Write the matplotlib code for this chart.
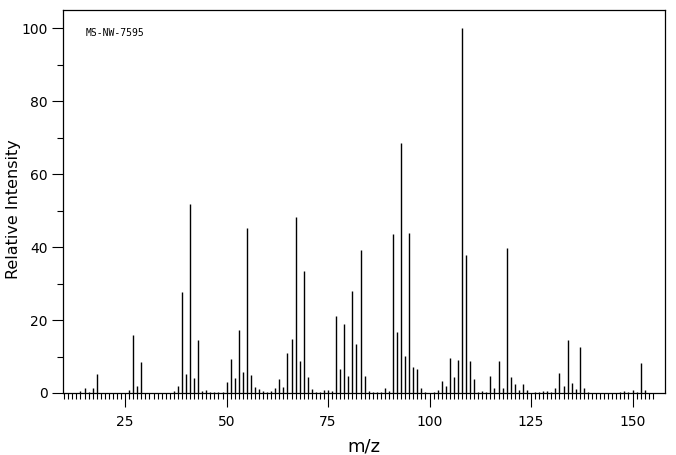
import numpy as np
import matplotlib
matplotlib.use("Agg")
import matplotlib.pyplot as plt
from matplotlib.ticker import MultipleLocator

# m/z values and relative intensities
mz = [14, 15, 16, 17, 18, 26, 27, 28, 29, 37, 38, 39, 40, 41, 42, 43, 44, 45,
      46, 47, 48, 49, 50, 51, 52, 53, 54, 55, 56, 57, 58, 59, 60, 61, 62, 63,
      64, 65, 66, 67, 68, 69, 70, 71, 72, 73, 74, 75, 76, 77, 78, 79, 80, 81,
      82, 83, 84, 85, 86, 87, 88, 89, 90, 91, 92, 93, 94, 95, 96, 97, 98, 99,
      101, 102, 103, 104, 105, 106, 107, 108, 109, 110, 111, 112, 113, 114,
      115, 116, 117, 118, 119, 120, 121, 122, 123, 124, 126, 127, 128, 129,
      130, 131, 132, 133, 134, 135, 136, 137, 138, 139, 147, 148, 149, 150,
      151, 152, 153]
intensity = [0.5, 1.5, 0.4, 1.5, 5.3, 0.9, 16.0, 2.0, 8.6, 0.6, 1.8, 27.6, 5.3,
             51.7, 4.2, 14.6, 0.6, 0.8, 0.4, 0.2, 0.4, 0.4, 3.1, 9.4, 4.2, 17.3,
             5.8, 45.3, 5.0, 1.6, 1.1, 0.6, 0.4, 0.6, 1.5, 3.9, 1.7, 11.0, 14.9,
             48.2, 8.8, 33.5, 4.4, 1.2, 0.4, 0.4, 0.8, 0.7, 0.6, 21.1, 6.7, 19.0,
             4.7, 28.0, 13.5, 39.2, 4.7, 0.6, 0.4, 0.4, 0.4, 1.5, 0.6, 43.6, 16.8,
             68.6, 10.2, 43.9, 7.2, 6.7, 1.5, 0.4, 0.4, 0.9, 3.4, 2.0, 9.7, 4.5,
             9.1, 100.0, 37.9, 8.9, 3.9, 0.4, 0.5, 0.4, 4.6, 1.5, 8.9, 1.5, 39.8,
             4.5, 2.6, 0.9, 2.6, 0.9, 0.4, 0.4, 0.6, 0.6, 0.4, 1.5, 5.6, 2.0,
             14.6, 2.7, 1.2, 12.7, 1.5, 0.4, 0.4, 0.6, 0.4, 0.9, 0.4, 8.1, 0.9]

spectrum_id = "MS-NW-7595"

fig = plt.figure(figsize=(6.76, 4.55), dpi=100)
ax = fig.add_axes([0.0932, 0.1363, 0.8905, 0.8417])

ax.vlines(mz, 0, intensity, colors="black", linewidth=1.0)

ax.set_xlim(9.7, 158.0)
ax.set_ylim(0, 105)

ax.xaxis.set_major_locator(MultipleLocator(25))
ax.yaxis.set_major_locator(MultipleLocator(20))
ax.yaxis.set_minor_locator(MultipleLocator(10))
ax.tick_params(axis="x", which="major", length=10, width=0.8, direction="out",
               labelsize=10, pad=6)
ax.tick_params(axis="x", which="minor", length=4, width=0.8, direction="out")
ax.tick_params(axis="y", which="major", length=8, width=0.8, direction="out",
               labelsize=10, pad=3)
ax.tick_params(axis="y", which="minor", length=4, width=0.8, direction="out")
ax.set_xticks([25, 50, 75, 100, 125, 150])
ax.set_xticks(np.arange(10, 156, 1), minor=True)

for sp in ax.spines.values():
    sp.set_linewidth(0.9)

ax.set_xlabel("m/z", fontsize=13, labelpad=6)
ax.set_ylabel("Relative Intensity", fontsize=11.5)
ax.yaxis.set_label_coords(-0.07, 0.48)

ax.text(0.038, 0.94, spectrum_id, transform=ax.transAxes, fontsize=7,
        family="DejaVu Sans Mono", va="center", ha="left")

fig.savefig("out.png", dpi=100)
